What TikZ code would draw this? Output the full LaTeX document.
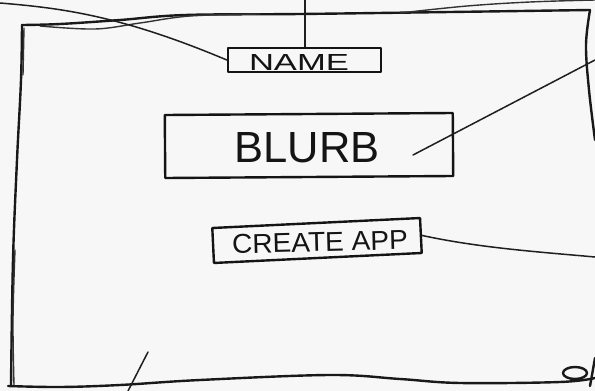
\documentclass[tikz,border=0pt]{standalone}
\usepackage{fontspec}
\setmainfont{Liberation Sans}
\usepackage{graphicx}
\begin{document}
\begin{tikzpicture}[x=1pt,y=-1pt, line cap=round, line join=round,
  ink/.style={draw=black!90, line width=2.4pt},
  thinink/.style={draw=black!80, line width=1.4pt},
  leader/.style={draw=black!88, line width=1.5pt},
  boxnode/.style={draw=black!92, line width=2.4pt, inner sep=0pt},
  txt/.style={inner sep=0pt, text=black!92}]
\useasboundingbox[fill=black!3] (0,0) rectangle (595,391);

% frame
\draw[ink] plot[smooth, tension=0.6] coordinates {(22,25) (60,24) (120,20) (185,15) (300,14) (450,12) (590,10)};
\draw[thinink] plot[smooth, tension=0.6] coordinates {(40,26) (95,29) (140,23) (190,16) (260,14)};
\draw[thinink] plot[smooth, tension=0.6] coordinates {(400,13) (467,6) (530,2) (595,0)};
\draw[ink] plot[smooth, tension=0.6] coordinates {(590,10) (586,45) (589,90) (595,140)};
\draw[ink] plot[smooth, tension=0.6] coordinates {(22,25) (21,80) (17,160) (13,260) (11,385)};
\draw[thinink] plot[smooth, tension=0.6] coordinates {(24,28) (23,75)};
\draw[thinink] plot[smooth, tension=0.6] coordinates {(15,250) (13,320) (14,385)};
\draw[ink] plot[smooth, tension=0.6] coordinates {(8,386) (60,387) (120,385) (200,380) (330,375) (400,379) (460,383) (560,382) (595,378)};
\draw[ink] (575,373) ellipse [x radius=12pt, y radius=6pt];
\draw[ink] plot[smooth, tension=0.6] coordinates {(595,358) (592,375) (590,386)};

% boxes
\node[boxnode, minimum width=153pt, minimum height=24pt] (name) at (304.5,60) {};
\node[txt] (nametext) at (299,62) {\resizebox{100pt}{16pt}{NAME}};
\node[boxnode, minimum width=288pt, minimum height=63pt, rotate=0.4] (blurb) at (309,145.5) {};
\node[txt] (blurbtext) at (307,148) {\resizebox{145pt}{30pt}{BLURB}};
\node[boxnode, minimum width=208pt, minimum height=35pt, rotate=2.75] (create) at (317,240.5) {};
\node[txt, rotate=1.5] (createtext) at (320,242) {\resizebox{176pt}{19pt}{CREATE APP}};

% connector end points
\coordinate (nametop) at (305,0);
\coordinate (tl) at (0,3);
\coordinate (bp) at (413,155);
\coordinate (br) at (595,60);
\coordinate (cr) at (595,257);
\coordinate (blA) at (148,352);
\coordinate (blB) at (128,391);

% connectors
\draw[leader] (name.north -| nametop) -- (nametop);
\draw[leader] (tl) .. controls (60,8) and (120,15) .. (name.west);
\draw[leader] (bp) -- (br);
\draw[leader] (create.east) .. controls (480,248) and (540,252) .. (cr);
\draw[leader] (blA) -- (blB);
\end{tikzpicture}
\end{document}
